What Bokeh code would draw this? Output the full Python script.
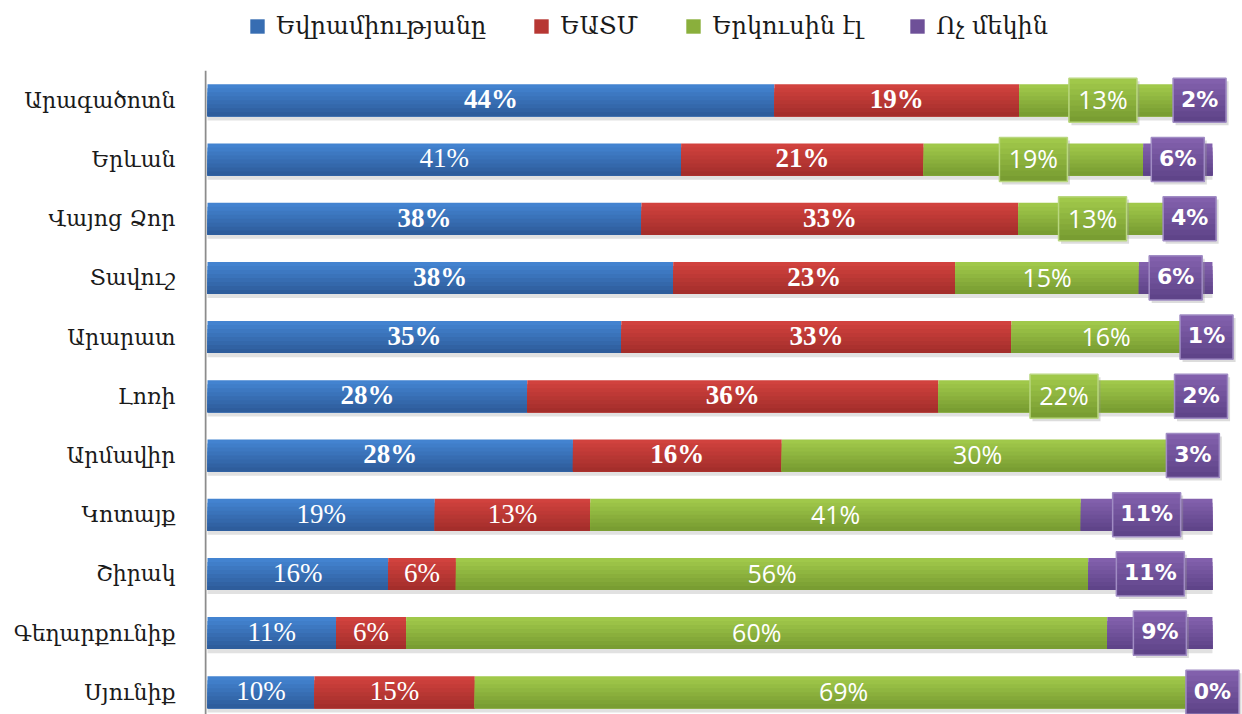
from bokeh.plotting import figure
from bokeh.models import Range1d, FixedTicker, Legend, LegendItem, ColumnDataSource
from bokeh.embed import file_html
from bokeh.resources import INLINE
from bokeh.core.properties import value

# ---------------- data ----------------
regions = ["Արագածոտն", "Երևան", "Վայոց Ձոր", "Տավուշ", "Արարատ", "Լոռի",
           "Արմավիր", "Կոտայք", "Շիրակ", "Գեղարքունիք", "Սյունիք"]
eu = [44, 41, 38, 38, 35, 28, 28, 19, 16, 11, 10]
eaeu = [19, 21, 33, 23, 33, 36, 16, 13, 6, 6, 15]
both = [13, 19, 13, 15, 16, 22, 30, 41, 56, 60, 69]
neither = [2, 6, 4, 6, 1, 2, 3, 11, 11, 9, 0]
series_names = ["Եվրամիությանը", "ԵԱՏՄ", "Երկուսին էլ", "Ոչ մեկին"]

# label styling flags
green_boxed = [True, True, True, False, False, True, False, False, False, False, False]
blue_bold = [True, False, True, True, True, True, True, False, False, False, False]
red_bold = [True, True, True, True, True, True, True, False, False, False, False]

# ---------------- styles ----------------
top_colors = ["#4586D4", "#D4433F", "#A3CB4C", "#8462AE"]
bot_colors = ["#2C5A98", "#A12D2A", "#769A30", "#5D4287"]
box_border = {2: "#B9D77F", 3: "#A08CC4"}
NSTRIP = 8
BH = 0.54      # bar height (row units)
BOXH = 0.745   # label box height (row units)


def lerp(c1, c2, t):
    a = [int(c1[i:i + 2], 16) for i in (1, 3, 5)]
    b = [int(c2[i:i + 2], 16) for i in (1, 3, 5)]
    return "#%02x%02x%02x" % tuple(round(x + (y - x) * t) for x, y in zip(a, b))


n = len(regions)
rows = list(range(n))
series = [eu, eaeu, both, neither]
totals = [sum(v) for v in zip(*series)]
pct = [[v / t * 100 for v, t in zip(s, totals)] for s in series]
lefts, rights = [], []
cum = [0.0] * n
for s in pct:
    lefts.append(cum[:])
    cum = [a + b for a, b in zip(cum, s)]
    rights.append(cum[:])
centers = [[(l + r) / 2 for l, r in zip(L, R)] for L, R in zip(lefts, rights)]

W, H = 1242, 714
p = figure(width=W, height=H, output_backend="svg", toolbar_location=None,
           x_range=Range1d(-0.3, 102.99), y_range=Range1d(10.375, -1.686),
           min_border_left=204, min_border_right=0, min_border_top=0,
           min_border_bottom=0)
p.outline_line_color = None
p.grid.visible = False
p.xaxis.visible = False
p.background_fill_color = "white"

ya = p.yaxis[0]
ya.ticker = FixedTicker(ticks=rows)
ya.major_label_overrides = {i: r for i, r in zip(rows, regions)}
ya.axis_line_color = None
ya.major_tick_line_color = None
ya.minor_tick_line_color = None
ya.major_label_standoff = 23
ya.major_label_text_font = "DejaVu Serif"
ya.major_label_text_font_size = "22px"
ya.major_label_text_color = "#1a1a1a"

# axis line
p.segment(x0=[-0.2], y0=[rows[0] - 0.5], x1=[-0.2], y1=[p.y_range.start],
          line_color="#8c8c8c", line_width=2)

# shadows under bars
p.hbar(y=[r + BH / 2 + 0.035 for r in rows], left=[0] * n, right=rights[-1],
       height=0.07, fill_color="#d4d4d4", line_color=None, fill_alpha=0.7)


def strip_layout(k, total_h):
    """top edge at -total_h/2; strip k spans from its top to the bar's bottom"""
    top = -total_h / 2 + k * total_h / NSTRIP
    h = total_h / 2 - top
    return top + h / 2, h


legend_renderers = []
for j in range(4):
    mid = None
    for k in range(NSTRIP):
        t = (k + 0.5) / NSTRIP
        c = lerp(top_colors[j], bot_colors[j], t)
        off, hh = strip_layout(k, BH)
        ys = [r + off for r in rows]
        rr = p.hbar(y=ys, left=lefts[j], right=rights[j], height=hh,
                    fill_color=c, line_color=None)
        if k == NSTRIP // 2:
            mid = rr
    legend_renderers.append(mid)


def boxes(j, idx):
    xs = [centers[j][i] for i in idx]
    labs = [f"{series[j][i]}%" for i in idx]
    ws = [53 if len(s) == 2 else 68 for s in labs]
    ysr = [rows[i] for i in idx]
    # shadow
    p.rect(x=[x + 0.25 for x in xs], y=[y + 0.05 for y in ysr], width=ws,
           width_units="screen", height=BOXH, fill_color="#9a9a9a",
           fill_alpha=0.35, line_color=None)
    for k in range(NSTRIP):
        t = (k + 0.5) / NSTRIP
        c = lerp(top_colors[j], bot_colors[j], t)
        off, hh = strip_layout(k, BOXH)
        ys = [y + off for y in ysr]
        p.rect(x=xs, y=ys, width=ws, width_units="screen", height=hh,
               fill_color=c, line_color=None)
    p.rect(x=xs, y=ysr, width=ws, width_units="screen", height=BOXH,
           fill_color=None, line_color=box_border[j], line_width=1.5)


boxes(2, [i for i in rows if green_boxed[i]])
boxes(3, rows)

# labels
def labels(j, font, size, styles):
    src = ColumnDataSource(dict(x=centers[j], y=[r - 0.02 for r in rows],
                                t=[f"{v}%" for v in series[j]], fs=styles))
    p.text(x="x", y="y", text="t", source=src, text_align="center",
           text_baseline="middle", text_color="white",
           text_font=value(font), text_font_size=size, text_font_style="fs")


labels(0, "Liberation Serif", "27px", ["bold" if b else "normal" for b in blue_bold])
labels(1, "Liberation Serif", "27px", ["bold" if b else "normal" for b in red_bold])
labels(2, "Open Sans", "25px", ["normal"] * n)
labels(3, "DejaVu Sans", "22px", ["bold"] * n)

legend = Legend(items=[LegendItem(label=nm, renderers=[r])
                       for nm, r in zip(series_names, legend_renderers)],
                orientation="horizontal", location=(44, 674),
                glyph_width=18, glyph_height=18, label_standoff=10, spacing=46,
                padding=0, margin=0, border_line_color=None,
                background_fill_alpha=0, label_text_font="DejaVu Serif",
                label_text_font_size="24px", label_text_color="#1a1a1a",
                label_text_baseline="middle")
p.add_layout(legend)

open("out.html", "w").write(file_html(p, INLINE))
